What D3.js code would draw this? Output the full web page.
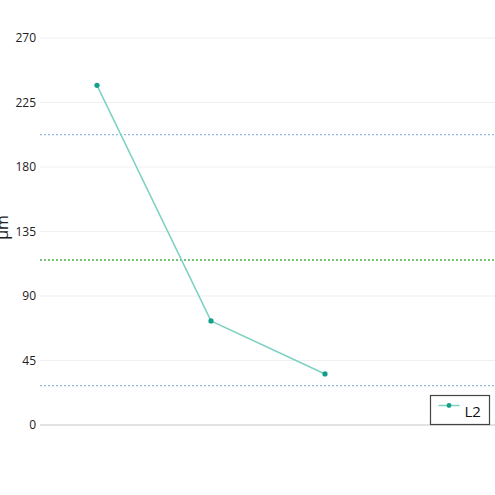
<!DOCTYPE html>
<html>
<head>
<meta charset="utf-8">
<script src="https://cdn.jsdelivr.net/npm/d3@7"></script>
<style>
  html, body { margin: 0; padding: 0; background: #fff; }
  svg { display: block; font-family: 'Open Sans', 'Noto Sans', sans-serif; }
</style>
</head>
<body>
<div id="chart"></div>
<script>
const WIDTH = 495
const HEIGHT = 495

// four slots on the x axis, the last one has no value
const categories = ['1', '2', '3', '4']
const values = [237, 72.6, 35.6, null]
const yTicks = [0, 45, 90, 135, 180, 225, 270]
const seriesName = 'L2'
const yLabel = 'µm'

const margin = { top: 38, right: -1, bottom: 70, left: 40 }

const svg = d3.select('#chart')
  .append('svg')
  .attr('width', WIDTH)
  .attr('height', HEIGHT)

const x = d3.scaleBand()
  .domain(categories)
  .range([margin.left, WIDTH - margin.right])

const y = d3.scaleLinear()
  .domain([0, 270])
  .range([HEIGHT - margin.bottom, margin.top])

// grid lines
svg.append('g')
  .selectAll('line')
  .data(yTicks)
  .join('line')
  .attr('x1', margin.left)
  .attr('x2', WIDTH)
  .attr('y1', (d) => y(d))
  .attr('y2', (d) => y(d))
  .style('stroke', (d) => d === 0 ? '#d9d9d9' : '#efefef')
  .style('stroke-width', (d) => d === 0 ? 1.5 : 1)

// tick labels
svg.append('g')
  .selectAll('text')
  .data(yTicks)
  .join('text')
  .attr('x', margin.left - 4)
  .attr('y', (d) => y(d))
  .attr('dy', '0.35em')
  .attr('text-anchor', 'end')
  .style('font-size', '12px')
  .style('fill', '#222')
  .text((d) => d)

// y axis title, partly cut by the left edge as in the original
svg.append('text')
  .attr('transform', `translate(8, ${y(135) - 4}) rotate(-90)`)
  .attr('text-anchor', 'middle')
  .style('font-size', '16px')
  .style('fill', '#222')
  .text(yLabel)

// mean and +/- one standard deviation
const present = values.filter((v) => v != null)
const mean = d3.mean(present)
const sd = Math.sqrt(d3.mean(present, (v) => (v - mean) ** 2))
const refLines = [
  { value: mean + sd, color: '#8db6e2' },
  { value: mean, color: '#4cae4c' },
  { value: mean - sd, color: '#8db6e2' }
]

svg.append('g')
  .selectAll('line')
  .data(refLines)
  .join('line')
  .attr('x1', margin.left)
  .attr('x2', WIDTH)
  .attr('y1', (d) => y(d.value))
  .attr('y2', (d) => y(d.value))
  .style('stroke', (d) => d.color)
  .style('stroke-width', (d) => d.value === mean ? 1.5 : 1.2)
  .style('stroke-dasharray', '2,2')

const points = categories
  .map((c, i) => ({ c, v: values[i] }))
  .filter((d) => d.v != null)

const cx = (d) => x(d.c) + x.bandwidth() / 2

svg.append('path')
  .datum(points)
  .attr('d', d3.line().x(cx).y((d) => y(d.v)))
  .style('fill', 'none')
  .style('stroke', '#7dd1c1')
  .style('stroke-width', 1.5)

svg.append('g')
  .selectAll('circle')
  .data(points)
  .join('circle')
  .attr('cx', cx)
  .attr('cy', (d) => y(d.v))
  .attr('r', 2.6)
  .style('fill', '#13a08b')

// legend
const legend = svg.append('g')
  .attr('transform', 'translate(430.5, 395.5)')

legend.append('rect')
  .attr('width', 59)
  .attr('height', 29)
  .style('fill', '#fff')
  .style('stroke', '#444')
  .style('stroke-width', 1.2)

legend.append('line')
  .attr('x1', 8)
  .attr('x2', 29)
  .attr('y1', 10)
  .attr('y2', 10)
  .style('stroke', '#7dd1c1')
  .style('stroke-width', 1.5)

legend.append('circle')
  .attr('cx', 18.5)
  .attr('cy', 10)
  .attr('r', 2.4)
  .style('fill', '#13a08b')

legend.append('text')
  .attr('x', 34)
  .attr('y', 21)
  .style('font-size', '15px')
  .style('fill', '#111')
  .text(seriesName)
</script>
</body>
</html>
